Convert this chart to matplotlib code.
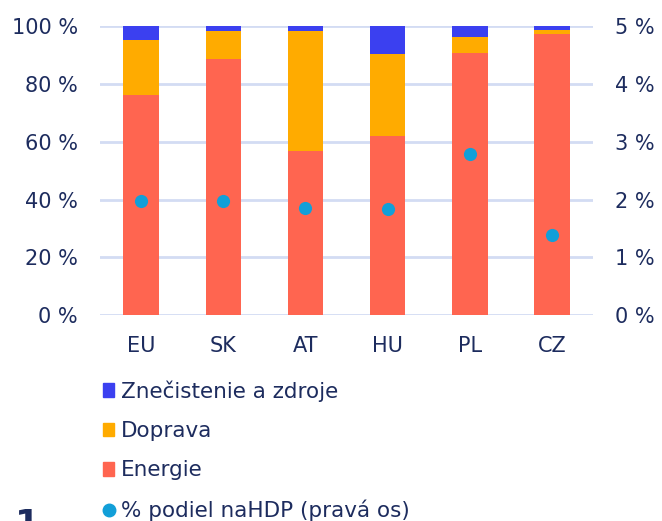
import matplotlib
matplotlib.use("Agg")
import matplotlib.pyplot as plt
import numpy as np
from matplotlib.lines import Line2D
from matplotlib.patches import Patch

categories = ["EU", "SK", "AT", "HU", "PL", "CZ"]
energie = [76.0, 88.7, 56.7, 62.0, 90.7, 97.3]
doprava = [19.2, 9.6, 41.7, 28.4, 5.6, 1.4]
znecistenie = [4.8, 1.7, 1.6, 9.6, 3.7, 1.3]
podiel_hdp = [1.98, 1.98, 1.86, 1.83, 2.78, 1.38]

left_ticks = [0, 20, 40, 60, 80, 100]
right_ticks = [0, 1, 2, 3, 4, 5]

NAVY = "#1d2c5e"
C_EN = "#ff6550"
C_DO = "#ffab00"
C_ZN = "#3b40f0"
C_DOT = "#129fd8"
GRID = "#d3dcf3"

plt.rcParams['font.family'] = ['DejaVu Sans']

fig = plt.figure(figsize=(6.62, 5.21), dpi=100)
ax = fig.add_axes([0.151, 0.395, 0.745, 0.555])
ax2 = ax.twinx()

x = np.arange(len(categories))
w = 0.43
en = np.array(energie)
do = np.array(doprava)
zn = np.array(znecistenie)
ax.bar(x, en, w, color=C_EN, zorder=2)
ax.bar(x, do, w, bottom=en, color=C_DO, zorder=2)
ax.bar(x, zn, w, bottom=en + do, color=C_ZN, zorder=2)

ax.set_ylim(0, 100)
ax.set_xlim(-0.5, len(categories) - 0.5)
ax.set_yticks(left_ticks)
ax.set_yticklabels([f"{t} %" for t in left_ticks])
ax.set_xticks(x)
ax.set_xticklabels(categories)
ax.yaxis.grid(True, color=GRID, linewidth=2, zorder=0)
ax.set_axisbelow(True)
for s in ax.spines.values():
    s.set_visible(False)
for s in ax2.spines.values():
    s.set_visible(False)
ax.tick_params(axis='both', length=0, labelsize=15, colors=NAVY)
ax.tick_params(axis='y', pad=16)
ax.tick_params(axis='x', pad=15)

ax2.set_ylim(0, 5)
ax2.set_yticks(right_ticks)
ax2.set_yticklabels([f"{t} %" for t in right_ticks])
ax2.tick_params(axis='y', length=0, labelsize=15, colors=NAVY, pad=16)
ax2.scatter(x, podiel_hdp, s=90, color=C_DOT, zorder=5, linewidths=0)

handles = [
    Patch(color=C_ZN, label="Znečistenie a zdroje"),
    Patch(color=C_DO, label="Doprava"),
    Patch(color=C_EN, label="Energie"),
    Line2D([], [], marker='o', linestyle='none', color=C_DOT, markersize=9,
           label="% podiel naHDP (pravá os)"),
]
leg = fig.legend(handles=handles, loc='upper left', bbox_to_anchor=(0.142, 0.287),
                 frameon=False, fontsize=15.5, handlelength=0.55, handleheight=0.6,
                 handletextpad=0.3, labelspacing=0.9, borderaxespad=0)
for t in leg.get_texts():
    t.set_color(NAVY)

fig.text(0.022, -0.04, "1", fontsize=26, fontweight='bold', color=NAVY,
         ha='left', va='bottom')

fig.savefig("out.png", dpi=100)
